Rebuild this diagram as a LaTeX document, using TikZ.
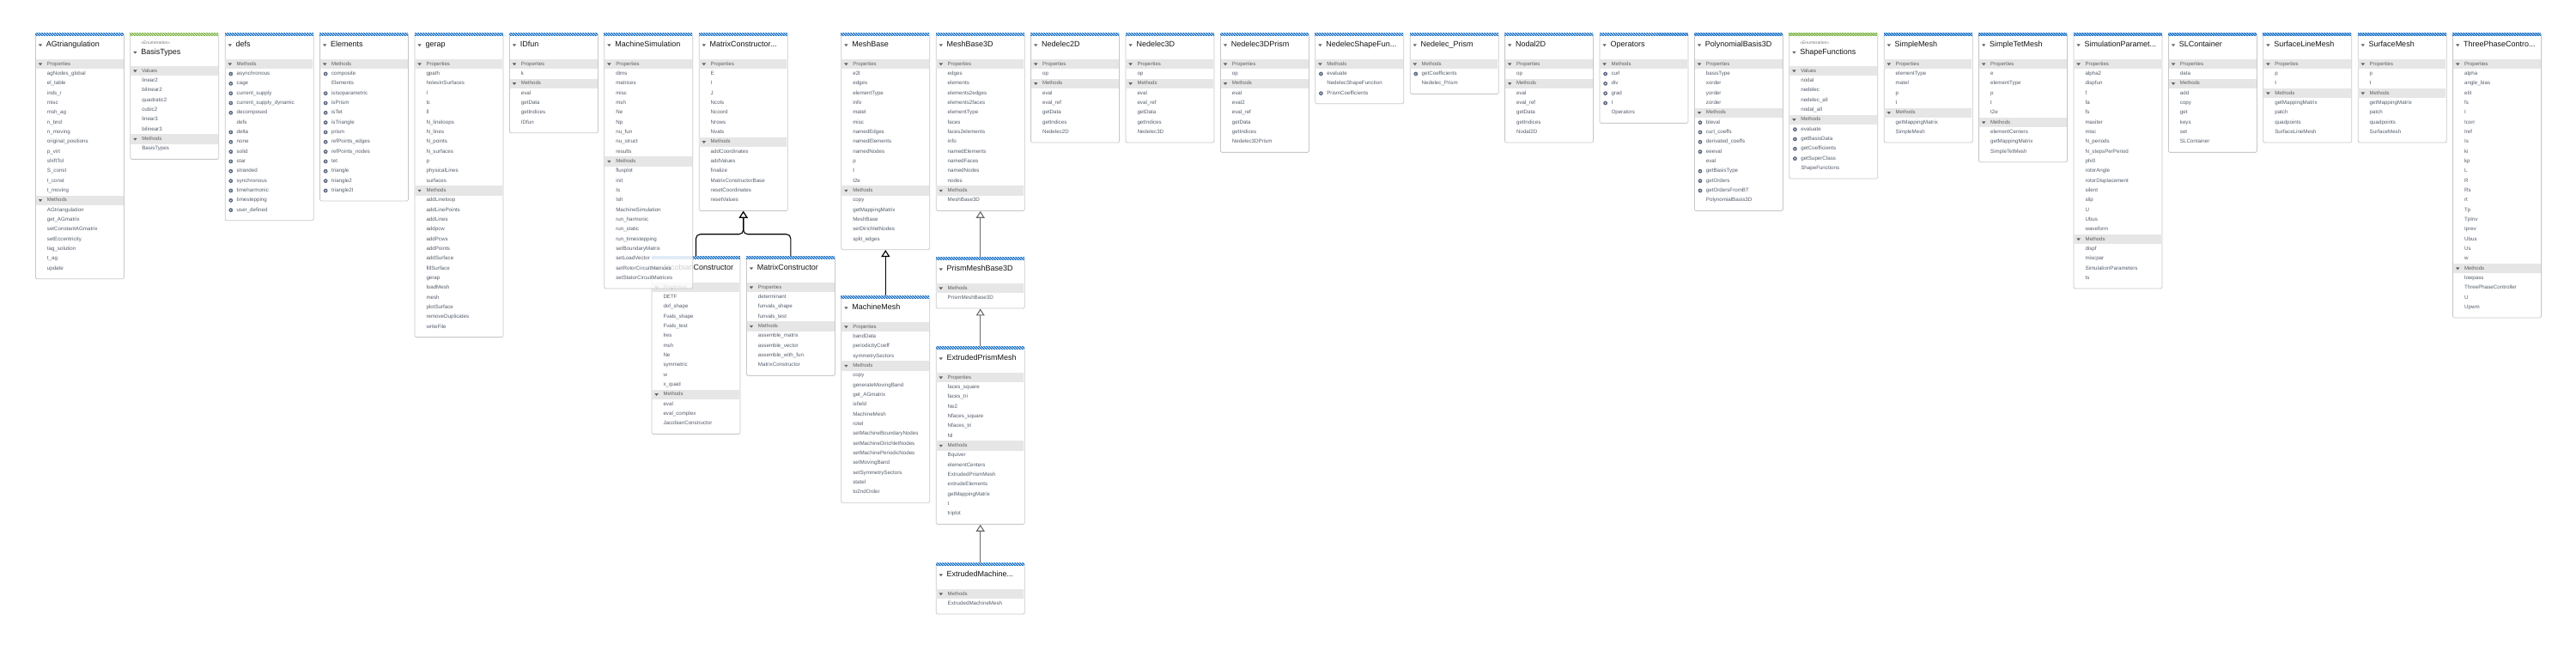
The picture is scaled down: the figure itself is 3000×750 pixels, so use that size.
\documentclass[tikz,border=0pt]{standalone}
\usepackage{fontspec}
\setmainfont{Liberation Sans}
\usetikzlibrary{arrows.meta,patterns}
\definecolor{boxgray}{HTML}{C8C8C8}
\definecolor{bargray}{HTML}{E6E6E6}
\definecolor{itemcol}{HTML}{555D6B}
\definecolor{barcol}{HTML}{5F5F5F}
\definecolor{hdrblue}{HTML}{1C74C8}
\definecolor{hdrgreen}{HTML}{7DB343}
\definecolor{gearcol}{HTML}{5A6882}
\definecolor{titlecol}{HTML}{151515}
\definecolor{stereocol}{HTML}{7A7A7A}
\definecolor{conngray}{HTML}{6B6B6B}

\def\rowh{11.33}
\def\boxw{103}
\def\gearmark{*}

\newcommand\tri[2]{\fill[barcol, shift={(#1,#2)}] (-2.2,-1.2) -- (2.2,-1.2) -- (0,1.6) -- cycle;}
\newcommand\gear[2]{\fill[gearcol] (#1,#2) circle[radius=2.4pt]; \fill[white] (#1,#2) circle[radius=0.8pt];}

\newcommand\umlbox[7][]{%
  \def\cx{#3}%
  \if e#6\def\hh{39}\def\hcol{hdrgreen}\else\def\hh{31}\def\hcol{hdrblue}\fi
  \pgfmathsetmacro\bh{\hh+#7*\rowh+6}%
  \node[boxshape, minimum height=\bh pt, #1] (#2) at (#3,#4) {};
  \fill[\hcol] (#3,#4) rectangle ++(\boxw,3.5);
  \fill[pattern=north west lines, pattern color=white] (#3,#4) rectangle ++(\boxw,3.5);
  \if e#6
    \node[stereo] at (#3+12.7,#4+12) {«Enumeration»};
    \tri{#3+6}{#4+23}
    \node[titletext] at (#3+12.7,#4+23) {#5};
  \else
    \tri{#3+6}{#4+14.5}
    \node[titletext] at (#3+12.7,#4+14.5) {#5};
  \fi
  \pgfmathsetmacro\cy{#4+\hh}\global\let\cy\cy
}

\def\uitem#1#2\relax{%
  \def\tmpa{#1}%
  \ifx\tmpa\gearmark
    \gear{\cx+7}{\cy+\rowh/2}%
    \node[itemtext] at (\cx+13.7,\cy+\rowh/2) {#2};%
  \else
    \node[itemtext] at (\cx+13.7,\cy+\rowh/2) {#1#2};%
  \fi
  \pgfmathsetmacro\cy{\cy+\rowh}\global\let\cy\cy
}

\newcommand\usec[2]{%
  \fill[bargray] (\cx+0.5,\cy) rectangle ++(\boxw-1,\rowh);
  \tri{\cx+6}{\cy+\rowh/2}
  \node[bartext] at (\cx+13.7,\cy+\rowh/2) {#1};
  \pgfmathsetmacro\cy{\cy+\rowh}\global\let\cy\cy
  \foreach \itm in {#2}{\expandafter\uitem\itm\relax}%
}

\begin{document}
\begin{tikzpicture}[x=1pt,y=-1pt,
  boxshape/.style={draw=boxgray, fill=white, line width=0.8pt, rounded corners=1.5pt,
    minimum width=103pt, anchor=north west, inner sep=0pt, shape=rectangle},
  itemtext/.style={font=\fontsize{6.2}{7}\selectfont, text=itemcol, anchor=west, inner sep=0pt,
    text height=4.6pt, text depth=1.3pt},
  bartext/.style={font=\fontsize{6}{7}\selectfont, text=barcol, anchor=west, inner sep=0pt,
    text height=4.5pt, text depth=1.3pt},
  titletext/.style={font=\fontsize{9}{10}\selectfont, text=titlecol, anchor=west, inner sep=0pt,
    text height=6.6pt, text depth=1.9pt},
  stereo/.style={font=\fontsize{5}{6}\selectfont, text=stereocol, anchor=west, inner sep=0pt},
  inh/.style={draw=black, line width=1.1pt, -{Triangle[open, length=8pt, width=10pt, fill=white]}},
  inhgray/.style={inh, draw=conngray},
]
\fill[white] (0,0) rectangle (3000,750);
\useasboundingbox (0,0) rectangle (3000,750);

\umlbox{ag}{41}{38}{AGtriangulation}{c}{22}
\usec{Properties}{agNodes\_global, el\_table, inds\_r, misc, msh\_ag, n\_bnd, n\_moving, original\_positions, p\_virt, shiftTol, S\_const, t\_const, t\_moving}
\usec{Methods}{AGtriangulation, get\_AGmatrix, setConstantAGmatrix, setEccentricity, tag\_solution, t\_ag, update}

\umlbox{bt}{151.4}{38}{BasisTypes}{e}{9}
\usec{Values}{linear2, bilinear2, quadratic2, cubic2, linear3, bilinear3}
\usec{Methods}{BasisTypes}

\umlbox{defs}{261.8}{38}{defs}{c}{16}
\usec{Methods}{*asynchronous, *cage, *current\_supply, *current\_supply\_dynamic, *decomposed, defs, *delta, *none, *solid, *star, *stranded, *synchronous, *timeharmonic, *timestepping, *user\_defined}

\umlbox{el}{372.2}{38}{Elements}{c}{14}
\usec{Methods}{*composite, Elements, *isIsoparametric, *isPrism, *isTet, *isTriangle, *prism, *refPoints\_edges, *refPoints\_nodes, *tet, *triangle, *triangle2, *triangle2I}

\umlbox{gerap}{482.6}{38}{gerap}{c}{28}
\usec{Properties}{gpath, holesInSurfaces, l, lc, ll, N\_lineloops, N\_lines, N\_points, N\_surfaces, p, physicalLines, surfaces}
\usec{Methods}{addLineloop, addLinePoints, addLines, addpcw, addPcws, addPoints, addSurface, fillSurface, gerap, loadMesh, mesh, plotSurface, removeDuplicates, writeFile}

\umlbox{idfun}{593}{38}{IDfun}{c}{7}
\usec{Properties}{k}
\usec{Methods}{eval, getData, getIndices, IDfun}

\umlbox{mcb}{813.8}{38}{MatrixConstructor...}{c}{15}
\usec{Properties}{E, I, J, Ncols, Ncoord, Nrows, Nvals}
\usec{Methods}{addCoordinates, addValues, finalize, MatrixConstructorBase, resetCoordinates, resetValues}

\umlbox{mb}{979.4}{38}{MeshBase}{c}{19}
\usec{Properties}{e2t, edges, elementType, info, matel, misc, namedEdges, namedElements, namedNodes, p, t, t2e}
\usec{Methods}{copy, getMappingMatrix, MeshBase, setDirichletNodes, split\_edges}

\umlbox{mb3}{1089.8}{38}{MeshBase3D}{c}{15}
\usec{Properties}{edges, elements, elements2edges, elements2faces, elementType, faces, faces2elements, info, namedElements, namedFaces, namedNodes, nodes}
\usec{Methods}{MeshBase3D}

\umlbox{ned2}{1200.2}{38}{Nedelec2D}{c}{8}
\usec{Properties}{op}
\usec{Methods}{eval, eval\_ref, getData, getIndices, Nedelec2D}

\umlbox{ned3}{1310.6}{38}{Nedelec3D}{c}{8}
\usec{Properties}{op}
\usec{Methods}{eval, eval\_ref, getData, getIndices, Nedelec3D}

\umlbox{ned3p}{1421}{38}{Nedelec3DPrism}{c}{9}
\usec{Properties}{op}
\usec{Methods}{eval, eval2, eval\_ref, getData, getIndices, Nedelec3DPrism}

\umlbox{nsf}{1531.4}{38}{NedelecShapeFun...}{c}{4}
\usec{Methods}{*evaluate, NedelecShapeFunction, *PrismCoefficients}

\umlbox{np}{1641.8}{38}{Nedelec\_Prism}{c}{3}
\usec{Methods}{*getCoefficients, Nedelec\_Prism}

\umlbox{nod2}{1752.2}{38}{Nodal2D}{c}{8}
\usec{Properties}{op}
\usec{Methods}{eval, eval\_ref, getData, getIndices, Nodal2D}

\umlbox{ops}{1862.6}{38}{Operators}{c}{6}
\usec{Methods}{*curl, *div, *grad, *I, Operators}

\umlbox{pb3}{1973}{38}{PolynomialBasis3D}{c}{15}
\usec{Properties}{basisType, xorder, yorder, zorder}
\usec{Methods}{*bleval, *curl\_coeffs, *derivated\_coeffs, *eeeval, eval, *getBasisType, *getOrders, *getOrdersFromBT, PolynomialBasis3D}

\umlbox{sf}{2083.4}{38}{ShapeFunctions}{e}{11}
\usec{Values}{nodal, nedelec, nedelec\_all, nodal\_all}
\usec{Methods}{*evaluate, *getBasisData, *getCoefficients, *getSuperClass, ShapeFunctions}

\umlbox{sm}{2193.8}{38}{SimpleMesh}{c}{8}
\usec{Properties}{elementType, matel, p, t}
\usec{Methods}{getMappingMatrix, SimpleMesh}

\umlbox{stm}{2304.2}{38}{SimpleTetMesh}{c}{10}
\usec{Properties}{e, elementType, p, t, t2e}
\usec{Methods}{elementCenters, getMappingMatrix, SimpleTetMesh}

\umlbox{sp}{2414.6}{38}{SimulationParamet...}{c}{23}
\usec{Properties}{alpha2, dispfun, f, fa, fs, maxiter, misc, N\_periods, N\_stepsPerPeriod, phi0, rotorAngle, rotorDisplacement, silent, slip, U, Ubus, waveform}
\usec{Methods}{dispf, miscpar, SimulationParameters, ts}

\umlbox{slc}{2525}{38}{SLContainer}{c}{9}
\usec{Properties}{data}
\usec{Methods}{add, copy, get, keys, set, SLContainer}

\umlbox{slm}{2635.4}{38}{SurfaceLineMesh}{c}{8}
\usec{Properties}{p, t}
\usec{Methods}{getMappingMatrix, patch, quadpoints, SurfaceLineMesh}

\umlbox{srm}{2745.8}{38}{SurfaceMesh}{c}{8}
\usec{Properties}{p, t}
\usec{Methods}{getMappingMatrix, patch, quadpoints, SurfaceMesh}

\umlbox{tpc}{2856.2}{38}{ThreePhaseContro...}{c}{26}
\usec{Properties}{alpha, angle\_bias, eIit, fs, I, Icorr, Iref, Is, ki, kp, L, R, Rs, rt, Tp, TpInv, Iprev, Ubus, Us, w}
\usec{Methods}{lowpass, ThreePhaseController, U, Upwm}

% lower row
\umlbox{jac}{758.6}{298}{JacobianConstructor}{c}{15}
\usec{Properties}{DETF, dof\_shape, Fvals\_shape, Fvals\_test, lres, msh, Ne, symmetric, w, x\_quad}
\usec{Methods}{eval, eval\_complex, JacobianConstructor}

\umlbox[fill opacity=0.8]{ms}{703.4}{38}{MachineSimulation}{c}{23}
\usec{Properties}{dims, matrices, misc, msh, Ne, Np, nu\_fun, nu\_struct, results}
\usec{Methods}{fluxplot, init, Is, Ish, MachineSimulation, run\_harmonic, run\_static, run\_timestepping, setBoundaryMatrix, setLoadVector, setRotorCircuitMatrices, setStatorCircuitMatrices}

\umlbox{mc}{869}{298}{MatrixConstructor}{c}{9}
\usec{Properties}{determinant, funvals\_shape, funvals\_test}
\usec{Methods}{assemble\_matrix, assemble\_vector, assemble\_with\_fun, MatrixConstructor}

\umlbox{mm}{979.4}{344}{MachineMesh}{c}{18}
\usec{Properties}{bandData, periodicityCoeff, symmetrySectors}
\usec{Methods}{copy, generateMovingBand, get\_AGmatrix, isfield, MachineMesh, rotel, setMachineBoundaryNodes, setMachineDirichletNodes, setMachinePeriodicNodes, setMovingBand, setSymmetrySectors, statel, to2ndOrder}

\umlbox{pmb}{1089.8}{299}{PrismMeshBase3D}{c}{2}
\usec{Methods}{PrismMeshBase3D}

\umlbox{epm}{1089.8}{403}{ExtrudedPrismMesh}{c}{15}
\usec{Properties}{faces\_square, faces\_tri, Ne2, Nfaces\_square, Nfaces\_tri, Nl}
\usec{Methods}{Bquiver, elementCenters, ExtrudedPrismMesh, extrudeElements, getMappingMatrix, t, triplot}

\umlbox{emm}{1089.8}{655}{ExtrudedMachine...}{c}{2}
\usec{Methods}{ExtrudedMachineMesh}

% connectors
\draw[inh, rounded corners=5pt] (jac.north) |- ([yshift=-27pt]mcb.south) -- (mcb.south);
\draw[inh, rounded corners=5pt] (mc.north) |- ([yshift=-27pt]mcb.south) -- (mcb.south);
\draw[inh] (mm.north) -- (mb.south);
\draw[inhgray] (pmb.north) -- (mb3.south);
\draw[inhgray] (epm.north) -- (pmb.south);
\draw[inhgray] (emm.north) -- (epm.south);
\end{tikzpicture}
\end{document}
